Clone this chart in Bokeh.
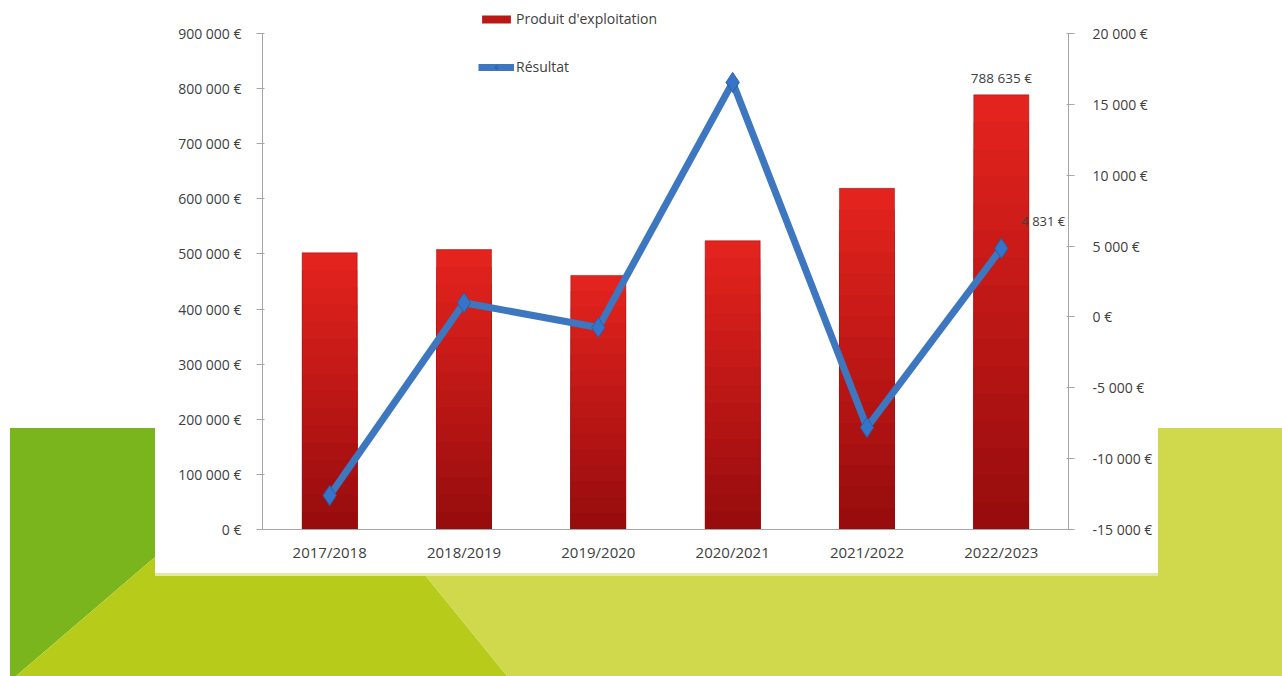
from urllib.parse import quote
from bokeh.plotting import figure
from bokeh.models import (Range1d, FactorRange, LinearAxis, FixedTicker, CustomJSTickFormatter,
                          ColumnDataSource, Legend, LegendItem)
from bokeh.core.properties import value
from bokeh.embed import file_html
from bokeh.resources import INLINE

# ---------------- data ----------------
categories = ["2017/2018", "2018/2019", "2019/2020", "2020/2021", "2021/2022", "2022/2023"]
produit = [502000, 508000, 461000, 524000, 619000, 788635]
resultat = [-12600, 1000, -750, 16550, -7800, 4831]
left_ticks = [0, 100000, 200000, 300000, 400000, 500000, 600000, 700000, 800000, 900000]
right_ticks = [-15000, -10000, -5000, 0, 5000, 10000, 15000, 20000]

FONT = "Open Sans"
TXT = "#404040"

W, H = 1282, 676
FR_LEFT, FR_RIGHT, FR_TOP, FR_BOTTOM = 262, 1068, 4, 529
AX_TOP = 33  # pixel row of the top tick (900 000 / 20 000)


def euro(v):
    return f"{v:,}".replace(",", " ") + " €"


# ranges extended above the top tick so the legend fits inside the frame
ext = (FR_BOTTOM - FR_TOP) / (FR_BOTTOM - AX_TOP)
left_lo, left_hi = left_ticks[0], left_ticks[-1]
right_lo, right_hi = right_ticks[0], right_ticks[-1]

p = figure(width=W, height=H, x_range=FactorRange(*categories),
           y_range=Range1d(left_lo, left_lo + (left_hi - left_lo) * ext),
           output_backend="svg", toolbar_location=None, tools="",
           min_border_left=FR_LEFT, min_border_right=W - FR_RIGHT,
           min_border_top=FR_TOP, min_border_bottom=H - FR_BOTTOM)
p.extra_y_ranges = {"res": Range1d(right_lo, right_lo + (right_hi - right_lo) * ext)}
p.outline_line_color = None
p.xgrid.visible = False
p.ygrid.visible = False
p.background_fill_color = "white"
p.border_fill_color = None

# slide background decoration (CSS, pixels of the page)
bg_svg = (
    f"<svg xmlns='http://www.w3.org/2000/svg' width='{W}' height='{H}'>"
    f"<rect x='0' y='0' width='{W}' height='{H}' fill='white'/>"
    "<polygon points='10,428 155,428 155,557 16,676 10,676' fill='rgb(123,181,30)'/>"
    "<polygon points='16,676 155,557 155,575 425,575 507,676' fill='rgb(182,203,26)'/>"
    "<polygon points='425,575 1158,575 1158,428 1282,428 1282,676 507,676' fill='rgb(207,217,75)'/>"
    "<rect x='155' y='573' width='1003' height='3' fill='rgb(226,232,165)'/>"
    "</svg>"
)
p.styles = {"background-image": f'url("data:image/svg+xml;charset=utf-8,{quote(bg_svg)}")',
            "background-repeat": "no-repeat", "background-size": f"{W}px {H}px"}

# ---------------- bars (vertical gradient, drawn tallest-first to avoid seams) ----------------
n_bands = 16
bx, bt, bc = [], [], []
top_rgb = (230, 36, 30)
bot_rgb = (150, 12, 14)
for b in range(n_bands - 1, -1, -1):
    f = (b + 0.5) / n_bands
    rgb = tuple(int(bot_rgb[k] + (top_rgb[k] - bot_rgb[k]) * f) for k in range(3))
    col = "#%02x%02x%02x" % rgb
    for c, v in zip(categories, produit):
        bx.append(c)
        bt.append(v * (b + 1) / n_bands)
        bc.append(col)
bar_src = ColumnDataSource(dict(x=bx, top=bt, color=bc))
bars_r = p.vbar(x="x", bottom=0, top="top", width=0.41, source=bar_src,
                fill_color="color", line_color=None)
p.vbar(x=categories, top=produit, width=0.41, fill_color=None,
       line_color="#9a1010", line_alpha=0.5, line_width=1)

# ---------------- line ----------------
line_r = p.line(x=categories, y=resultat, y_range_name="res",
                line_color="#3d77c0", line_width=7, line_join="round")
pts_r = p.scatter(x=categories, y=resultat, y_range_name="res", marker="diamond",
                  size=20, fill_color="#3574c8", line_color="#2a5ea6", line_width=1)

# ---------------- data labels ----------------
p.text(x=[categories[-1]], y=[produit[-1]], text=[euro(produit[-1])],
       text_align="center", text_baseline="bottom", y_offset=-8,
       text_font=value(FONT), text_font_size="13.5px", text_color=TXT)
p.text(x=[categories[-1]], y=[resultat[-1]], y_range_name="res", text=[euro(resultat[-1])],
       text_align="left", text_baseline="middle", x_offset=20, y_offset=-27,
       text_font=value(FONT), text_font_size="13px", text_color=TXT)

# ---------------- axes ----------------
fmt_code = r"""
const s = Math.round(tick).toString().replace(/\B(?=(\d{3})+(?!\d))/g, ' ');
return s + ' €';
"""


def style_axis(ax):
    ax.axis_line_color = "#a6a6a6"
    ax.major_tick_line_color = "#a6a6a6"
    ax.minor_tick_line_color = None
    ax.major_label_text_font = FONT
    ax.major_label_text_font_size = "14px"
    ax.major_label_text_color = TXT


yl = p.yaxis[0]
yl.ticker = FixedTicker(ticks=left_ticks)
yl.formatter = CustomJSTickFormatter(code=fmt_code)
yl.bounds = (left_lo, left_hi)
style_axis(yl)
yl.major_tick_out = 6
yl.major_tick_in = 2
yl.major_label_standoff = 15

yr = LinearAxis(y_range_name="res", ticker=FixedTicker(ticks=right_ticks),
                formatter=CustomJSTickFormatter(code=fmt_code), bounds=(right_lo, right_hi))
style_axis(yr)
yr.major_tick_out = 6
yr.major_tick_in = 2
yr.major_label_standoff = 18
p.add_layout(yr, "right")

xa = p.xaxis[0]
style_axis(xa)
xa.major_tick_out = 0
xa.major_tick_in = 0
xa.major_label_standoff = 12
xa.major_label_text_font_size = "15px"

# ---------------- legend ----------------
legend = Legend(items=[LegendItem(label="Produit d'exploitation", renderers=[bars_r],
                                  index=(n_bands // 2) * len(categories)),
                       LegendItem(label="Résultat", renderers=[line_r, pts_r])],
                location=(216, 453), orientation="vertical",
                border_line_color=None, background_fill_alpha=0,
                padding=0, margin=0, spacing=29, glyph_width=36, glyph_height=10,
                label_standoff=2, label_text_font=FONT, label_text_font_size="14px",
                label_text_color=TXT, label_height=10)
p.add_layout(legend)

open("out.html", "w").write(file_html(p, INLINE))
